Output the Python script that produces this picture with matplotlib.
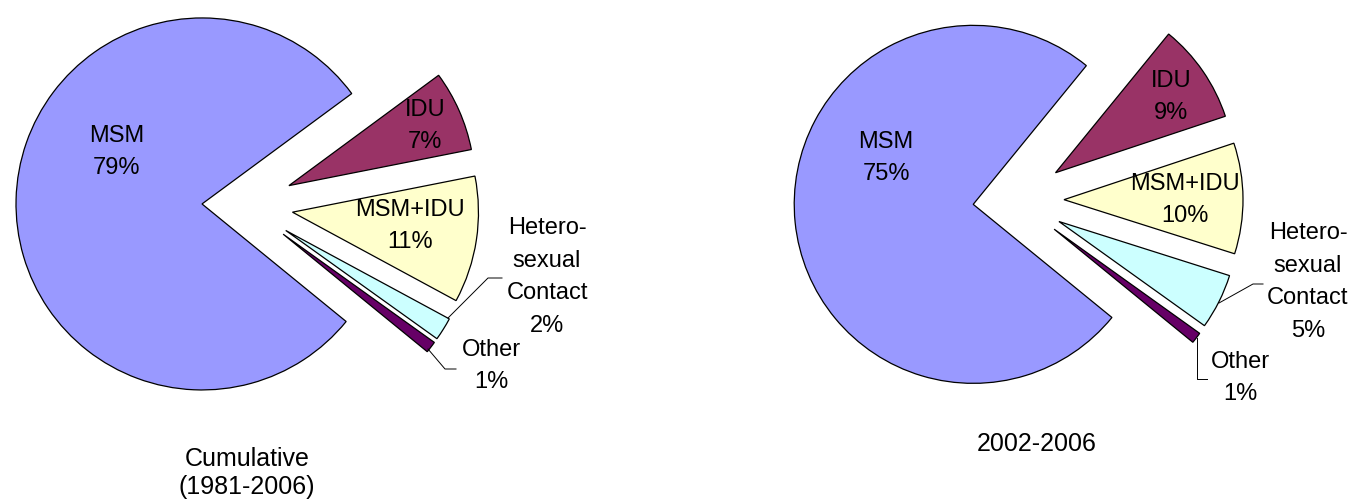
import matplotlib
matplotlib.use('Agg')
import matplotlib.pyplot as plt

plt.rcParams['font.family'] = ['Liberation Sans', 'DejaVu Sans']

# data
groups = ['MSM', 'IDU', 'MSM+IDU', 'Hetero-\nsexual\nContact', 'Other']
cumulative = [79, 7, 11, 2, 1]
recent = [75, 9, 10, 5, 1]
titles = ['Cumulative\n(1981-2006)', '2002-2006']

colors = ['#9999FF', '#993366', '#FFFFCC', '#CCFFFF', '#660066']

# layout (pixel coords, y down)
W, H = 1356, 500
pies = [
    dict(values=cumulative, center=(245, 205), radius=186,
         label_xy=[(117, 152), (425, 126), (410, 226), (547, 277), (491, 366)],
         leaders=[None, None, None,
                  [(448, 318), (488, 278), (502, 278)],
                  [(428, 349), (445, 369), (456, 369)]],
         title_xy=(247, 473)),
    dict(values=recent, center=(1016, 200), radius=179,
         label_xy=[(886, 158), (1171, 97), (1185, 200), (1308, 282), (1240, 378)],
         leaders=[None, None, None,
                  [(1219, 303), (1253, 284), (1263, 284)],
                  [(1197, 338), (1197, 379), (1207, 379)]],
         title_xy=(1037, 444)),
]
explode_px = [43, 48, 48, 48, 48]

fig = plt.figure(figsize=(W / 100, H / 100), dpi=100)
ax = fig.add_axes([0, 0, 1, 1])

for p in pies:
    # y axis is inverted below, so counterclockwise here reads clockwise on screen
    ax.pie(p['values'], colors=colors, center=p['center'], radius=p['radius'],
           explode=explode_px, startangle=39.2, counterclock=True,
           wedgeprops=dict(edgecolor='black', linewidth=0.9))
    for name, v, (x, y) in zip(groups, p['values'], p['label_xy']):
        ax.text(x, y, f'{name}\n{v}%', ha='center', va='center',
                fontsize=17, linespacing=1.63, color='black')
    for ld in p['leaders']:
        if ld:
            ax.plot([a for a, b in ld], [b for a, b in ld], color='black', lw=0.7)
for p, t in zip(pies, titles):
    ax.text(p['title_xy'][0], p['title_xy'][1], t, ha='center', va='center',
            fontsize=18, linespacing=1.26)

ax.set_xlim(0, W)
ax.set_ylim(H, 0)
ax.set_aspect('auto')
ax.axis('off')

fig.savefig('out.png', dpi=100, facecolor='white')
